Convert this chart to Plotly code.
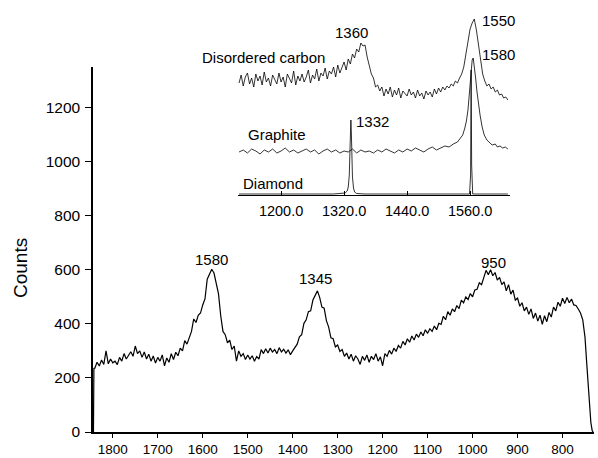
import numpy as np
import plotly.graph_objects as go

# ---------------- main spectrum (counts vs wavenumber) ----------------
main_head_x = [1843, 1842]
main_head_y = [0, 235]
main_grid_x = list(np.arange(1840, 759, -5))
main_grid_y = [
    236, 258, 244, 266, 250, 300, 252, 270, 256, 262,
    249, 276, 262, 290, 270, 284, 297, 280, 318, 290,
    300, 276, 296, 270, 288, 262, 281, 255, 276, 262,
    285, 245, 274, 258, 290, 268, 295, 282, 310, 300,
    338, 325, 348, 372, 418, 405, 432, 440, 470, 492,
    565, 585, 602, 588, 545, 512, 430, 372, 360, 330,
    340, 305, 318, 262, 300, 280, 290, 268, 285, 270,
    282, 262, 279, 270, 305, 290, 308, 292, 310, 296,
    305, 290, 312, 296, 306, 292, 304, 286, 300, 315,
    325, 352, 360, 402, 415, 445, 448, 488, 505, 522,
    498, 462, 458, 412, 388, 348, 345, 315, 322, 298,
    305, 280, 292, 270, 288, 262, 282, 270, 250, 280,
    265, 285, 258, 280, 268, 290, 262, 278, 245, 290,
    280, 302, 288, 310, 298, 320, 310, 335, 322, 345,
    332, 355, 340, 362, 350, 370, 356, 378, 365, 382,
    372, 392, 378, 402, 398, 428, 415, 445, 432, 455,
    445, 468, 456, 488, 478, 500, 490, 512, 500, 525,
    528, 552, 545, 575, 598, 582, 600, 578, 590, 562,
    572, 545, 555, 522, 545, 510, 525, 488, 495, 465,
    478, 448, 462, 435, 455, 420, 440, 410, 432, 398,
    430, 408, 442, 425, 462, 448, 480, 465, 495, 475,
    498, 478, 492, 470, 468, 455, 440,
]
main_tail_x = [755, 750, 746, 743, 740, 737, 734, 732]
main_tail_y = [415, 350, 250, 170, 100, 35, 5, 0]

main_x = main_head_x + main_grid_x + main_tail_x
main_y = main_head_y + main_grid_y + main_tail_y

main_xticks = [1800, 1700, 1600, 1500, 1400, 1300, 1200, 1100, 1000, 900, 800]
main_yticks = [0, 200, 400, 600, 800, 1000, 1200]

main_peaks = [1580, 1345, 950]
main_peak_label_y = [638, 568, 628]
main_peak_label_x = [1580, 1350, 953]

# ---------------- inset spectra (arbitrary intensity, stacked) ----------------
dc_x = list(np.arange(1120, 1633, 4))
dc_y = [
    112, 120, 109, 118, 122, 111, 117, 108, 121, 114,
    119, 110, 123, 113, 117, 109, 120, 115, 111, 122,
    113, 118, 108, 121, 116, 112, 124, 110, 119, 114,
    121, 113, 118, 125, 112, 120, 116, 126, 114, 122,
    119, 127, 116, 124, 121, 128, 118, 130, 122, 127,
    133, 125, 136, 131, 141, 137, 146, 143, 152, 149,
    150, 138, 128, 121, 117, 108, 110, 104, 108, 99,
    106, 101, 108, 98, 105, 100, 107, 97, 104, 101,
    99, 106, 100, 103, 97, 105, 99, 102, 96, 104,
    100, 103, 98, 106, 101, 107, 103, 108, 105, 109,
    107, 111, 109, 114, 112, 117, 121, 128, 141, 156,
    166, 172, 176, 165, 150, 134, 121, 114, 109, 111,
    106, 108, 103, 105, 100, 101, 97, 98, 95,
]

gr_x = list(np.arange(1120, 1521, 8)) + [
    1528, 1536, 1541, 1546, 1550, 1553, 1556, 1558, 1560, 1562, 1564, 1566,
    1568, 1571, 1573, 1575, 1579, 1583, 1587, 1592, 1597, 1602, 1608, 1612,
    1617, 1622, 1627, 1632]
gr_y = [
    43, 45, 42, 46, 44, 41, 45, 43, 46, 42,
    44, 47, 43, 45, 42, 44, 46, 43, 45, 41,
    44, 46, 43, 45, 42, 44, 43, 46, 42, 45,
    43, 44, 42, 45, 43, 46, 44, 42, 45, 43,
    46, 44, 47, 45, 43, 46, 48, 45, 47, 49,
    48,
    51, 53, 56, 60, 67, 74, 85, 98, 115, 128, 135, 137,
    130, 115, 104, 95, 80, 68, 60, 55, 52, 50, 51, 48,
    49, 47, 48, 46]

di_x = [1120, 1300, 1322, 1326, 1328, 1330, 1331, 1332, 1333, 1334, 1335,
        1336, 1338, 1340, 1344, 1360, 1559, 1561, 1562, 1563, 1565, 1632]
di_y = [1, 1, 2, 4, 8, 20, 40, 62, 75, 60, 38,
        18, 7, 3, 1.5, 1, 1, 20, 125, 30, 1, 1]

inset_tickvals = [1200, 1320, 1440, 1560]
inset_ticktext = ["1200.0", "1320.0", "1440.0", "1560.0"]

FONT = "Liberation Sans, Arial, sans-serif"

fig = go.Figure()
fig.add_trace(go.Scatter(x=main_x, y=main_y, mode="lines",
                         line=dict(color="black", width=1.2),
                         xaxis="x", yaxis="y", showlegend=False, hoverinfo="skip"))
for xs, ys in [(dc_x, dc_y), (gr_x, gr_y), (di_x, di_y)]:
    fig.add_trace(go.Scatter(x=xs, y=ys, mode="lines",
                             line=dict(color="black", width=0.8),
                             xaxis="x2", yaxis="y2", showlegend=False, hoverinfo="skip"))

annotations = []
for lx, ly, p in zip(main_peak_label_x, main_peak_label_y, main_peaks):
    annotations.append(dict(x=lx, y=ly, xref="x", yref="y", text=str(p),
                            xanchor="center", yanchor="middle",
                            showarrow=False, font=dict(size=15, family=FONT, color="black")))

inset_labels = [
    (1335, 163, "1360"), (1615, 175, "1550"), (1615, 141, "1580"), (1375, 74, "1332"),
    (1166, 138, "Disordered carbon"), (1192, 61, "Graphite"), (1185, 12, "Diamond"),
    (1383, -40, "Rcm<sup>−1</sup>"),
]
for lx, ly, t in inset_labels:
    annotations.append(dict(x=lx, y=ly, xref="x2", yref="y2", text=t,
                            xanchor="center", yanchor="middle",
                            showarrow=False, font=dict(size=15, family=FONT, color="black")))

annotations.append(dict(x=-0.1457, y=0.384, xref="paper", yref="paper", text="Counts",
                        xanchor="center", yanchor="middle",
                        textangle=-90, showarrow=False,
                        font=dict(size=19, family=FONT, color="black")))

fig.update_layout(
    width=598, height=458,
    margin=dict(l=93, r=4, t=5, b=26, autoexpand=False),
    paper_bgcolor="white", plot_bgcolor="white",
    font=dict(family=FONT, color="black"),
    xaxis=dict(range=[1844, 730], domain=[0, 1], anchor="y",
               showline=True, linecolor="black", linewidth=1.5,
               ticks="outside", ticklen=4, tickcolor="black",
               tickvals=main_xticks, tickfont=dict(size=13.5),
               ticklabelstandoff=0, automargin=False,
               showgrid=False, zeroline=False),
    yaxis=dict(range=[0, 1350], domain=[0, 0.8548], anchor="x",
               showline=True, linecolor="black", linewidth=1.5,
               ticks="outside", ticklen=6, tickcolor="black",
               tickvals=main_yticks, tickfont=dict(size=15.5),
               ticklabelstandoff=2, automargin=False,
               showgrid=False, zeroline=False),
    xaxis2=dict(range=[1118, 1636], domain=[0.2894, 0.8323], anchor="y2",
                showline=True, linecolor="black", linewidth=1,
                ticks="inside", ticklen=4, tickcolor="black",
                tickvals=inset_tickvals, ticktext=inset_ticktext,
                tickfont=dict(size=14.5), ticklabelstandoff=3, automargin=False,
                showgrid=False, zeroline=False),
    yaxis2=dict(range=[0, 190], domain=[0.555, 1.0], anchor="x2",
                visible=False, showgrid=False, zeroline=False),
    annotations=annotations,
)

fig.write_html("out.html")
